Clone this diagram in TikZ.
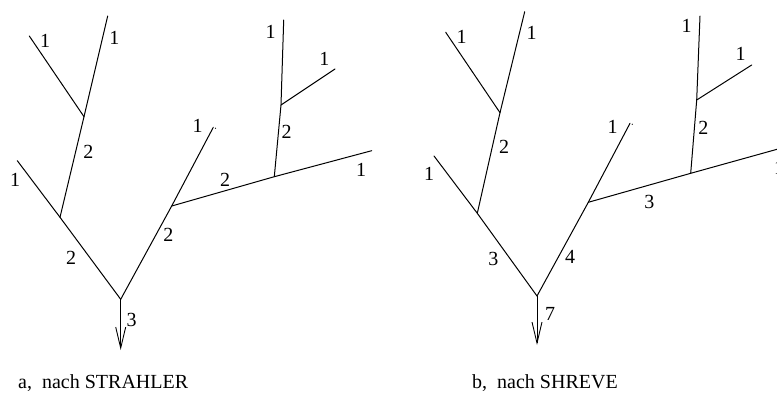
\documentclass[tikz,border=0pt]{standalone}
\usepackage{fontspec}
\setmainfont{Liberation Serif}
\usetikzlibrary{arrows.meta}
\begin{document}
\begin{tikzpicture}[x=1pt,y=-1pt,
  river/.style={line width=1pt, line cap=round},
  outlet/.style={line width=1pt, -{Straight Barb[length=21pt,width=10pt,line width=0.9pt]}},
  num/.style={font=\fontsize{20}{24}\selectfont, inner sep=0pt},
  captxt/.style={font=\fontsize{20}{24}\selectfont, inner sep=0pt, anchor=west}]
\useasboundingbox (0,0) rectangle (777,394);
% ---------- Tree a ----------
\coordinate (aL1) at (29.3,36);
\coordinate (aJ1) at (84,116.7);
\coordinate (aT1) at (107.7,16);
\coordinate (aL2) at (17.3,160.7);
\coordinate (aJ2) at (60,217.3);
\coordinate (aR) at (120.7,299.3);
\coordinate (aOut) at (120.7,350);
\coordinate (aJ3) at (171.7,206);
\coordinate (aL3) at (213.3,127.3);
\coordinate (aJ4) at (274.3,176.7);
\coordinate (aE) at (371.7,150.7);
\coordinate (aT2) at (283.7,20);
\coordinate (aJ5) at (281,105);
\coordinate (aB) at (335,69);
\draw[river] (aL1) -- (aJ1);
\draw[river] (aT1) -- (aJ1) -- (aJ2);
\draw[river] (aL2) -- (aJ2) -- (aR);
\draw[river] (aR) -- (aJ3) -- (aL3);
\draw[river] (aJ3) -- (aJ4) -- (aE);
\draw[river] (aJ4) -- (aJ5) -- (aT2);
\draw[river] (aJ5) -- (aB);
\draw[outlet] (aR) -- (aOut);
\fill (215.5,128.2) circle (0.6pt);
\node[num] (a1) at (45,41) {1};
\node[num] (a2) at (114.3,37.7) {1};
\node[num] (a3) at (88.3,151.7) {2};
\node[num] (a4) at (15,180) {1};
\node[num] (a5) at (71,258.3) {2};
\node[num] (a6) at (168.3,235) {2};
\node[num] (a7) at (131.7,320) {3};
\node[num] (a8) at (197.7,126) {1};
\node[num] (a9) at (225,180) {2};
\node[num] (a10) at (270.7,31.7) {1};
\node[num] (a11) at (324.3,59.3) {1};
\node[num] (a12) at (286.7,131.7) {2};
\node[num] (a13) at (361,170) {1};
\node[captxt] (acap) at (18,383) {a,\ \ nach STRAHLER};
% ---------- Tree b ----------
\coordinate (bL1) at (445.7,32.3);
\coordinate (bJ1) at (500,112.7);
\coordinate (bT1) at (524.7,11.7);
\coordinate (bL2) at (434,156);
\coordinate (bJ2) at (477.3,213.3);
\coordinate (bR) at (537,296);
\coordinate (bOut) at (537,345);
\coordinate (bJ3) at (588.3,202.3);
\coordinate (bL3) at (630,123.3);
\coordinate (bJ4) at (690.7,173.3);
\coordinate (bE) at (777,149.3);
\coordinate (bT2) at (700,16);
\coordinate (bJ5) at (696.7,100);
\coordinate (bB) at (751.7,65);
\draw[river] (bL1) -- (bJ1);
\draw[river] (bT1) -- (bJ1) -- (bJ2);
\draw[river] (bL2) -- (bJ2) -- (bR);
\draw[river] (bR) -- (bJ3) -- (bL3);
\draw[river] (bJ3) -- (bJ4) -- (bE);
\draw[river] (bJ4) -- (bJ5) -- (bT2);
\draw[river] (bJ5) -- (bB);
\draw[outlet] (bR) -- (bOut);
\fill (632.2,124.2) circle (0.6pt);
\node[num] (b1) at (461.7,37.3) {1};
\node[num] (b2) at (531.7,33.3) {1};
\node[num] (b3) at (504,146.7) {2};
\node[num] (b4) at (429,174) {1};
\node[num] (b5) at (493.3,259.3) {3};
\node[num] (b6) at (570,257.3) {4};
\node[num] (b7) at (550,314.3) {7};
\node[num] (b8) at (612.7,126.7) {1};
\node[num] (b9) at (649.3,201.7) {3};
\node[num] (b10) at (686.7,26) {1};
\node[num] (b11) at (740.7,54.3) {1};
\node[num] (b12) at (703.3,127.7) {2};
\node[num,anchor=west] (b13) at (774,168) {1};
\node[captxt] (bcap) at (472,383) {b,\ \ nach SHREVE};
\end{tikzpicture}
\end{document}
